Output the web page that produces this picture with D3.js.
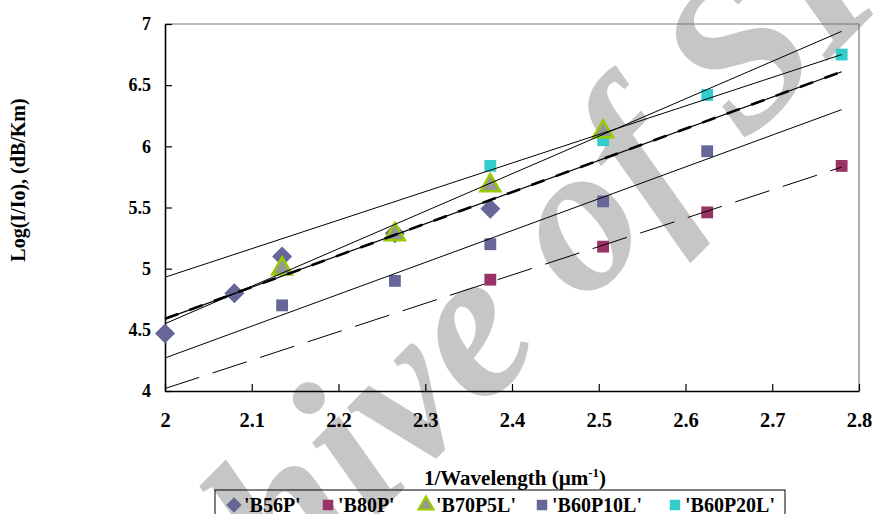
<!DOCTYPE html>
<html>
<head>
<meta charset="utf-8">
<script src="https://cdn.jsdelivr.net/npm/d3@7"></script>
<style>
  body { margin: 0; background: #fff; }
  text { font-family: "Liberation Serif", "Times New Roman", serif; font-weight: bold; }
</style>
</head>
<body>
<svg id="chart" width="876" height="514"></svg>
<script>

// data
const seriesNames = ["'B56P'", "'B80P'", "'B70P5L'", "'B60P10L'", "'B60P20L'"];

const b56pX = [2.0, 2.08, 2.135, 2.265, 2.375];
const b56pY = [4.47, 4.80, 5.10, 5.29, 5.49];

const b80pX = [2.375, 2.505, 2.625, 2.78];
const b80pY = [4.91, 5.18, 5.46, 5.84];

const b70p5lX = [2.135, 2.265, 2.375, 2.505];
const b70p5lY = [5.00, 5.28, 5.68, 6.12];

const b60p10lX = [2.135, 2.265, 2.375, 2.505, 2.625];
const b60p10lY = [4.70, 4.90, 5.20, 5.55, 5.96];

const b60p20lX = [2.375, 2.505, 2.625, 2.78];
const b60p20lY = [5.84, 6.05, 6.42, 6.75];

// linear trend lines, value at x = 2 and x = 2.78
const trendX = [2.0, 2.78];
const trendB56P = [4.59, 6.61];
const trendB80P = [4.02, 5.83];
const trendB70P5L = [4.55, 6.94];
const trendB60P10L = [4.27, 6.30];
const trendB60P20L = [4.93, 6.75];

const xTicks = [2, 2.1, 2.2, 2.3, 2.4, 2.5, 2.6, 2.7, 2.8];
const yTicks = [4, 4.5, 5, 5.5, 6, 6.5, 7];

const W = 876, H = 514;
const margin = { top: 24, right: 17, bottom: 123, left: 165 };
const innerW = W - margin.left - margin.right;
const innerH = H - margin.top - margin.bottom;

const svg = d3.select("#chart");

// watermark sits behind everything
svg.append("text")
   .attr("transform", "translate(66,830) rotate(-45.3)")
   .attr("font-family", "Liberation Serif, serif")
   .attr("font-size", 212)
   .attr("font-style", "italic")
   .attr("fill", "#c6c6c6")
   .text("Archive of SID");

const g = svg.append("g")
             .attr("transform", `translate(${margin.left},${margin.top})`);

const x = d3.scaleLinear().domain([2, 2.8]).range([0, innerW]);
const y = d3.scaleLinear().domain([4, 7]).range([innerH, 0]);

// frame: top and right in grey
g.append("line").attr("x1", 0).attr("x2", innerW).attr("y1", 0).attr("y2", 0)
 .attr("stroke", "#777").attr("stroke-width", 1.2);
g.append("line").attr("x1", innerW).attr("x2", innerW).attr("y1", 0).attr("y2", innerH)
 .attr("stroke", "#777").attr("stroke-width", 1.2);

// axes with inward ticks
const xAxis = g.append("g")
               .attr("transform", `translate(0,${innerH})`)
               .call(d3.axisBottom(x).tickValues(xTicks).tickSizeInner(-7).tickSizeOuter(0).tickPadding(20).tickFormat(d3.format("")));
const yAxis = g.append("g")
               .call(d3.axisLeft(y).tickValues(yTicks).tickSizeInner(-7).tickSizeOuter(0).tickPadding(14).tickFormat(d3.format("")));

[xAxis, yAxis].forEach(a => {
  a.select(".domain").attr("stroke", "#000").attr("stroke-width", 1.6);
  a.selectAll(".tick line").attr("stroke", "#000").attr("stroke-width", 1.2);
  a.selectAll("text")
   .attr("font-size", 18)
   .attr("font-family", "Liberation Serif, serif")
   .attr("font-weight", "bold")
   .attr("fill", "#000");
});
xAxis.selectAll("text").attr("font-size", 20.5).attr("dy", "0.8em");

// markers
const symDiamond = d3.symbol().type(d3.symbolSquare).size(200);
const symSquare = d3.symbol().type(d3.symbolSquare).size(140);
const symTriangle = d3.symbol().type(d3.symbolTriangle).size(170);

function drawPoints(xs, ys, sym, fill, stroke, sw, rot) {
  g.append("g").selectAll("path")
   .data(xs.map((v, i) => [v, ys[i]]))
   .join("path")
   .attr("d", sym)
   .attr("transform", d => `translate(${x(d[0])},${y(d[1])}) rotate(${rot})`)
   .attr("fill", fill)
   .attr("stroke", stroke)
   .attr("stroke-width", sw);
}

drawPoints(b56pX, b56pY, symDiamond, "#666699", "none", 0, 45);
drawPoints(b60p10lX, b60p10lY, symSquare, "#666699", "none", 0, 0);
drawPoints(b80pX, b80pY, symSquare, "#993366", "none", 0, 0);
drawPoints(b60p20lX, b60p20lY, symSquare, "#33cccc", "none", 0, 0);
drawPoints(b70p5lX, b70p5lY, symTriangle, "#969696", "#99cc00", 2.5, 0);

// trend lines on top
function trend(vals, sw, dash) {
  g.append("line")
   .attr("x1", x(trendX[0])).attr("y1", y(vals[0]))
   .attr("x2", x(trendX[1])).attr("y2", y(vals[1]))
   .attr("stroke", "#000")
   .attr("stroke-width", sw)
   .attr("stroke-dasharray", dash);
}
trend(trendB70P5L, 1, null);
trend(trendB60P20L, 1, null);
trend(trendB60P10L, 1, null);
trend(trendB80P, 1, "36,14");
trend(trendB56P, 1.2, null);
trend(trendB56P, 2.6, "14,12");

// axis titles
svg.append("text")
   .attr("transform", "translate(25,180) rotate(-90)")
   .attr("text-anchor", "middle")
   .attr("font-size", 20)
   .text("Log(I/Io), (dB/Km)");

const xt = svg.append("text")
   .attr("x", 515).attr("y", 485)
   .attr("text-anchor", "middle")
   .attr("font-size", 21);
xt.append("tspan").text("1/Wavelength (µm");
xt.append("tspan").attr("dy", -8).attr("font-size", 13).text("-1");
xt.append("tspan").attr("dy", 8).text(")");

// legend
const legend = svg.append("g");
legend.append("rect")
      .attr("x", 215).attr("y", 490)
      .attr("width", 570).attr("height", 34)
      .attr("fill", "none").attr("stroke", "#000").attr("stroke-width", 1);

const legX = [234, 328, 426, 542, 675];
const legSym = [d3.symbol().type(d3.symbolSquare).size(120),
                d3.symbol().type(d3.symbolSquare).size(110),
                d3.symbol().type(d3.symbolTriangle).size(95),
                d3.symbol().type(d3.symbolSquare).size(110),
                d3.symbol().type(d3.symbolSquare).size(110)];
const legFill = ["#666699", "#993366", "#969696", "#666699", "#33cccc"];
const legStroke = ["none", "none", "#99cc00", "none", "none"];
const legRot = [45, 0, 0, 0, 0];

seriesNames.forEach((name, i) => {
  legend.append("path")
        .attr("d", legSym[i]())
        .attr("transform", `translate(${legX[i]},505) rotate(${legRot[i]})`)
        .attr("fill", legFill[i])
        .attr("stroke", legStroke[i])
        .attr("stroke-width", 2.2);
  legend.append("text")
        .attr("x", legX[i] + 10).attr("y", 512)
        .attr("font-size", 20)
        .text(name);
});
</script>
</body>
</html>
